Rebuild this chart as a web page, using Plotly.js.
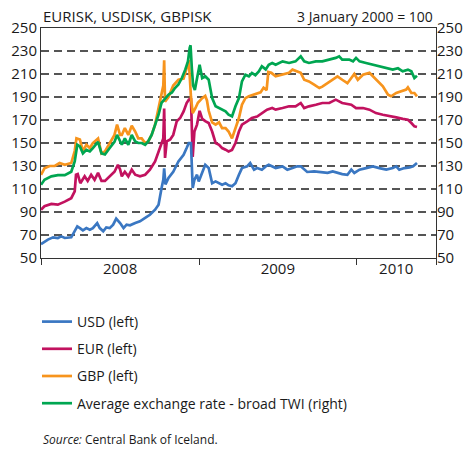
<!DOCTYPE html>
<html>
<head>
<meta charset="utf-8">
<script src="https://cdn.plot.ly/plotly-3.0.1.min.js"></script>
<style>html,body{margin:0;padding:0;background:#fff;}#chart{width:473px;height:451px;}</style>
</head>
<body>
<div id="chart"></div>
<script>
// ---- data (index, 3 January 2000 = 100) ----
const usdDates = ['2008-01-01','2008-01-09','2008-01-17','2008-01-29','2008-02-09','2008-02-17','2008-02-25','2008-03-11','2008-03-19','2008-03-25','2008-03-31','2008-04-07','2008-04-15','2008-04-23','2008-04-30','2008-05-10','2008-05-16','2008-05-24','2008-05-31','2008-06-08','2008-06-16','2008-06-23','2008-07-02','2008-07-10','2008-07-17','2008-07-25','2008-08-06','2008-08-17','2008-08-29','2008-09-09','2008-09-21','2008-09-29','2008-10-06','2008-10-10','2008-10-12','2008-10-15','2008-10-22','2008-11-02','2008-11-14','2008-11-26','2008-12-03','2008-12-08','2008-12-13','2008-12-17','2008-12-21','2008-12-27','2008-12-31','2009-01-08','2009-01-15','2009-01-23','2009-01-27','2009-01-31','2009-02-08','2009-02-16','2009-02-23','2009-03-03','2009-03-10','2009-03-18','2009-03-26','2009-04-03','2009-04-10','2009-04-22','2009-04-29','2009-05-08','2009-05-15','2009-05-26','2009-06-04','2009-06-11','2009-06-27','2009-07-13','2009-07-24','2009-08-05','2009-08-16','2009-08-24','2009-09-01','2009-09-08','2009-09-24','2009-10-10','2009-10-25','2009-11-06','2009-11-17','2009-11-28','2009-12-10','2009-12-19','2009-12-26','2010-01-07','2010-01-22','2010-02-07','2010-02-22','2010-03-10','2010-03-25','2010-04-02','2010-04-09','2010-04-21','2010-05-03','2010-05-11','2010-05-20'];
const usdValues = [62,64,66,68,67.4,68.8,67.4,68,73.2,77.5,76,74,76,74.6,76,80.4,76,73.2,76.6,76,79,84.2,80.4,76,79,78.4,80.4,81.9,84.8,87.6,92,96.4,110.8,118,128,114,119.6,125,134,139.8,145.6,150,150,111,118,122.4,116.6,125,131,128.2,122.4,115,116.6,115,113.7,115,113.2,112.3,115,122.4,128.2,129.7,132.6,126.8,128.2,126.8,129.7,131,128.2,129.7,126.8,128.2,129.7,129.7,126.8,124.8,125.3,124.8,124,125.3,124,123,122.4,126.8,124,126.8,128.2,129.7,128.2,126.8,128.2,129.7,126.8,128.2,128.8,129.7,132.6];

const eurDates = ['2008-01-01','2008-01-09','2008-01-25','2008-02-09','2008-02-25','2008-03-11','2008-03-19','2008-03-22','2008-03-26','2008-04-01','2008-04-11','2008-04-18','2008-04-26','2008-05-04','2008-05-12','2008-05-20','2008-05-28','2008-06-08','2008-06-19','2008-06-27','2008-07-02','2008-07-06','2008-07-13','2008-07-21','2008-07-29','2008-08-06','2008-08-17','2008-08-29','2008-09-09','2008-09-21','2008-09-29','2008-10-06','2008-10-10','2008-10-12','2008-10-14','2008-10-18','2008-10-26','2008-11-02','2008-11-10','2008-11-18','2008-11-26','2008-12-03','2008-12-08','2008-12-13','2008-12-17','2008-12-21','2008-12-27','2009-01-02','2009-01-08','2009-01-15','2009-01-23','2009-01-31','2009-02-08','2009-02-16','2009-02-23','2009-03-03','2009-03-10','2009-03-18','2009-03-26','2009-04-03','2009-04-10','2009-04-22','2009-05-03','2009-05-15','2009-05-26','2009-06-07','2009-06-19','2009-06-27','2009-07-13','2009-07-28','2009-08-12','2009-08-24','2009-09-01','2009-09-12','2009-09-28','2009-10-13','2009-10-29','2009-11-13','2009-11-28','2009-12-14','2009-12-19','2009-12-30','2010-01-15','2010-01-30','2010-02-14','2010-03-02','2010-03-17','2010-04-02','2010-04-17','2010-04-29','2010-05-07','2010-05-14','2010-05-20'];
const eurValues = [92,95,97,96.4,99,102,108,122.4,123,115,121,117,122.4,118,124,117,117,121,125,131,127,121,125,121,126.8,122.4,121,122.4,126.8,134,142.7,150,154,180,137,151.4,153,157,168.8,171.7,177.5,184.8,187.7,189,138,160,166,178,171,169,167.4,160,150,148.5,145.6,144.2,142.7,144,150,160,166,168.8,171.7,173,176,179,180.4,179,180.4,181.9,181.9,184.8,180.4,181.9,183.3,184.8,184.8,187.7,184.8,183.3,183.3,180.4,180.4,179,176,174.6,173.2,172.3,171,170.3,167.4,164.5,163.9];

const gbpDates = ['2008-01-01','2008-01-09','2008-01-21','2008-02-02','2008-02-13','2008-02-25','2008-03-11','2008-03-19','2008-03-23','2008-03-31','2008-04-07','2008-04-15','2008-04-23','2008-04-30','2008-05-12','2008-05-20','2008-05-28','2008-06-08','2008-06-19','2008-06-25','2008-07-02','2008-07-06','2008-07-13','2008-07-21','2008-07-29','2008-08-06','2008-08-13','2008-08-21','2008-08-29','2008-09-05','2008-09-13','2008-09-21','2008-09-29','2008-10-06','2008-10-10','2008-10-12','2008-10-14','2008-10-22','2008-11-02','2008-11-14','2008-11-26','2008-12-03','2008-12-08','2008-12-13','2008-12-17','2008-12-23','2008-12-29','2009-01-08','2009-01-15','2009-01-19','2009-01-23','2009-01-31','2009-02-08','2009-02-16','2009-02-23','2009-03-03','2009-03-10','2009-03-18','2009-03-26','2009-04-03','2009-04-10','2009-04-18','2009-04-26','2009-05-06','2009-05-15','2009-05-23','2009-05-30','2009-06-06','2009-06-10','2009-06-17','2009-06-27','2009-07-13','2009-07-28','2009-08-05','2009-08-16','2009-08-24','2009-09-01','2009-09-12','2009-09-24','2009-10-06','2009-10-13','2009-10-25','2009-11-05','2009-11-17','2009-11-28','2009-12-10','2009-12-19','2009-12-26','2010-01-03','2010-01-15','2010-01-30','2010-02-07','2010-02-18','2010-03-02','2010-03-14','2010-03-21','2010-04-02','2010-04-13','2010-04-25','2010-04-29','2010-05-07','2010-05-14','2010-05-20'];
const gbpValues = [122.4,128,130,130,132.6,131,132.6,143,154,153,143,148.5,145.6,150,154,141,142.7,150,157,166,157,157,163,157,165,160,154,154,150,151.4,157,166,180.4,190,200,222,186,190,200,205,206,215,222,190,176,180,185,189,191,187,178,168,166,168,163,163,160,154,163,171.7,183.3,189,190.6,192,193.5,194,198,196,211.7,211,208,209.4,211,213.8,212,211,205,203.6,200.7,197.8,199,202,205,208,205,202,206.5,210,205,209.4,211,208,203.6,199.3,192,190.6,193.5,195,196.4,198.4,193.5,193.5,190.6];

const twiDates = ['2008-01-01','2008-01-09','2008-01-25','2008-02-09','2008-02-25','2008-03-11','2008-03-19','2008-03-25','2008-03-31','2008-04-07','2008-04-15','2008-04-23','2008-04-30','2008-05-12','2008-05-20','2008-05-28','2008-06-08','2008-06-19','2008-06-25','2008-07-02','2008-07-06','2008-07-13','2008-07-21','2008-07-29','2008-08-06','2008-08-13','2008-08-21','2008-08-29','2008-09-05','2008-09-13','2008-09-21','2008-09-29','2008-10-06','2008-10-14','2008-10-22','2008-10-30','2008-11-06','2008-11-14','2008-11-22','2008-11-30','2008-12-06','2008-12-10','2008-12-12','2008-12-15','2008-12-18','2008-12-22','2008-12-28','2009-01-02','2009-01-08','2009-01-15','2009-01-23','2009-01-31','2009-02-08','2009-02-16','2009-02-23','2009-03-03','2009-03-10','2009-03-18','2009-03-26','2009-04-03','2009-04-10','2009-04-18','2009-04-26','2009-05-03','2009-05-11','2009-05-19','2009-05-26','2009-06-04','2009-06-11','2009-06-19','2009-06-27','2009-07-13','2009-07-28','2009-08-12','2009-08-24','2009-09-01','2009-09-12','2009-09-28','2009-10-13','2009-10-29','2009-11-13','2009-11-21','2009-11-28','2009-12-14','2009-12-23','2009-12-30','2010-01-07','2010-01-22','2010-02-07','2010-02-22','2010-03-10','2010-03-25','2010-04-06','2010-04-17','2010-04-29','2010-05-07','2010-05-14','2010-05-20'];
const twiValues = [113.7,118,121,122,122,125,134,148.5,147,141,144,142.7,145.6,151,141,140,145.6,151,157,151,148.5,154,148.5,157,151.4,150,150,148.5,151.4,157,166,174.6,185,189,192,194,197.8,201,206.5,214,221,232.6,235,215,200,196,208,218,206.5,208,205,189,182,180.4,179,177.5,174.6,173.2,182,189,203.6,209.4,208,210.9,209,212.3,216.7,214,218,219.6,218,221,219.6,221,225.4,221,219.6,221,221,222.5,224,225.4,222.5,222.5,221,224,221,219.6,218,216.7,215.2,213.8,215,212.3,213.8,212.3,206.5,208.5];

const seriesNames = ['USD (left)','EUR (left)','GBP (left)','Average exchange rate - broad TWI (right)'];
const yTicks = [50,70,90,110,130,150,170,190,210,230,250];
const yearBounds = ['2008-01-01','2009-01-01','2010-01-01','2010-07-03'];
const yearLabelPos = ['2008-07-02','2009-07-02','2010-04-02'];
const yearLabels = ['2008','2009','2010'];
const xRange = ['2008-01-01','2010-07-03'];

const colors = ['#3a77c2','#c2125f','#f7941d','#00a651'];
const FONT = 'Open Sans, sans-serif';

function line(x, y, i, xa, ya) {
  return {type:'scatter', mode:'lines', x:x, y:y, name:seriesNames[i],
    xaxis:xa, yaxis:ya, legendgroup:'g'+i,
    line:{color:colors[i], width:2.7}, hoverinfo:'skip'};
}
const traces = [
  line(usdDates, usdValues, 0, 'x2', 'y'),
  line(eurDates, eurValues, 1, 'x', 'y'),
  line(gbpDates, gbpValues, 2, 'x', 'y'),
  line(twiDates, twiValues, 3, 'x', 'y2')
];

const layout = {
  width:473, height:451,
  margin:{l:41, r:37, t:28, b:193, pad:0, autoexpand:false},
  paper_bgcolor:'#fff', plot_bgcolor:'#fff',
  font:{family:FONT, size:15, color:'#1a1a1a'},
  showlegend:true,
  legend:{xref:'container', yref:'container', x:37/473, y:1-306/451, xanchor:'left', yanchor:'top',
    font:{family:FONT, size:14, color:'#1a1a1a'}, tracegroupgap:6, bgcolor:'rgba(0,0,0,0)', traceorder:'grouped'},
  xaxis:{type:'date', range:xRange, tickmode:'array', tickvals:yearBounds, ticks:'outside', ticklen:6,
    tickcolor:'#333', tickwidth:1, showticklabels:false, showline:true, linecolor:'#333', linewidth:1,
    mirror:true, showgrid:false, zeroline:false, fixedrange:true},
  xaxis2:{type:'date', range:xRange, overlaying:'x', anchor:'y', side:'bottom', tickmode:'array',
    tickvals:yearLabelPos, ticktext:yearLabels, ticks:'', tickangle:0, showline:false, showgrid:false, zeroline:false,
    tickfont:{family:FONT, size:15, color:'#1a1a1a'}, fixedrange:true},
  yaxis:{range:[50,250], tickmode:'array', tickvals:yTicks, ticks:'', showgrid:true, griddash:'8px,5px',
    gridcolor:'#555', gridwidth:1.4, showline:true, linecolor:'#333', linewidth:1, mirror:true,
    zeroline:false, tickfont:{family:FONT, size:15, color:'#1a1a1a'}, fixedrange:true},
  yaxis2:{range:[50,250], overlaying:'y', side:'right', tickmode:'array', tickvals:yTicks, ticks:'',
    showgrid:false, showline:false, zeroline:false, tickfont:{family:FONT, size:15, color:'#1a1a1a'}, fixedrange:true},
  annotations:[
    {xref:'paper', yref:'paper', x:0, y:1, xanchor:'left', yanchor:'bottom', yshift:0, showarrow:false,
      text:'EURISK, USDISK, GBPISK', font:{family:FONT, size:15, color:'#1a1a1a'}},
    {xref:'paper', yref:'paper', x:1, y:1, xanchor:'right', yanchor:'bottom', xshift:-1, yshift:0, showarrow:false,
      text:'3 January 2000 = 100', font:{family:FONT, size:14, color:'#1a1a1a'}},
    {xref:'paper', yref:'paper', x:0, y:(258-439)/230, xanchor:'left', yanchor:'middle', showarrow:false,
      text:'<i>Source:</i> Central Bank of Iceland.', font:{family:FONT, size:12, color:'#1a1a1a'}}
  ]
};

Plotly.newPlot('chart', traces, layout, {staticPlot:true, displayModeBar:false});
</script>
</body>
</html>
